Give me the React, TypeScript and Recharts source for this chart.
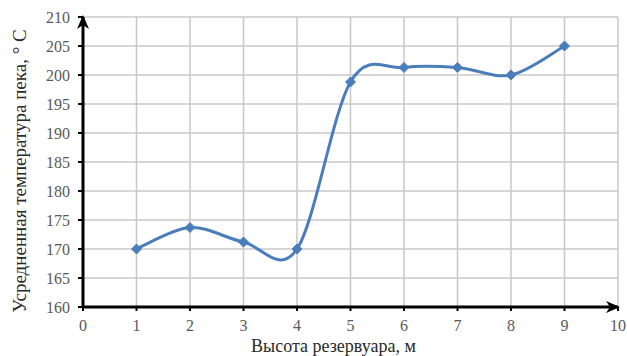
import React from "react";
import { LineChart, Line, XAxis, YAxis, CartesianGrid, Label } from "recharts";

const heights = [1, 2, 3, 4, 5, 6, 7, 8, 9];
const temps = [170, 173.7, 171.2, 170, 198.8, 201.3, 201.3, 200, 205];
const xTicks = [0, 1, 2, 3, 4, 5, 6, 7, 8, 9, 10];
const yTicks = [160, 165, 170, 175, 180, 185, 190, 195, 200, 205, 210];
const xTitle = "Высота резервуара, м";
const yTitle = "Усредненная температура пека, ° С";

const data = heights.map((h, i) => ({ h, t: temps[i] }));

const FONT = '"Liberation Serif", "DejaVu Serif", "Times New Roman", Times, serif';
const LINE_COLOR = "#4a7ebb";

// Excel-like smoothed line (Catmull-Rom through the points)
function smoothCurve(context: any) {
  let pts: number[][] = [];
  return {
    areaStart() {},
    areaEnd() {},
    lineStart() {
      pts = [];
    },
    point(x: number, y: number) {
      pts.push([+x, +y]);
    },
    lineEnd() {
      const n = pts.length;
      if (!n) return;
      context.moveTo(pts[0][0], pts[0][1]);
      const k = 1 / 6;
      for (let i = 0; i < n - 1; i++) {
        const p0 = pts[i - 1] || pts[i];
        const p1 = pts[i];
        const p2 = pts[i + 1];
        const p3 = pts[i + 2] || p2;
        context.bezierCurveTo(
          p1[0] + (p2[0] - p0[0]) * k,
          p1[1] + (p2[1] - p0[1]) * k,
          p2[0] - (p3[0] - p1[0]) * k,
          p2[1] - (p3[1] - p1[1]) * k,
          p2[0],
          p2[1]
        );
      }
    },
  };
}

const Diamond = (props: any) => {
  const { cx, cy, index } = props;
  if (cx == null || cy == null) return <g key={`d${index}`} />;
  const r = 5;
  return (
    <polygon
      key={`d${index}`}
      points={`${cx},${cy - r} ${cx + r},${cy} ${cx},${cy + r} ${cx - r},${cy}`}
      fill={LINE_COLOR}
      stroke={LINE_COLOR}
      strokeWidth={1}
    />
  );
};

const tickStyle = { fontFamily: FONT, fontSize: 16, fill: "#595959" };

const YTitle = (props: any) => {
  const vb = props.viewBox || {};
  const x = vb.x + 26;
  const y = vb.y + vb.height / 2 + 9;
  return (
    <g>
      <defs>
        <marker
          id="arrowHead"
          viewBox="0 0 14 12"
          refX="12"
          refY="6"
          markerWidth="14"
          markerHeight="12"
          markerUnits="userSpaceOnUse"
          orient="auto-start-reverse"
        >
          <path d="M0,0 L14,6 L0,12 L4,6 Z" fill="#000" />
        </marker>
      </defs>
      <text
        x={x}
        y={y}
        transform={`rotate(-90, ${x}, ${y})`}
        textAnchor="middle"
        style={{ fontFamily: FONT, fontSize: 19, fill: "#2a2a2a" }}
      >
        {yTitle}
      </text>
    </g>
  );
};

const XTitle = (props: any) => {
  const vb = props.viewBox || {};
  return (
    <text
      x={vb.x + vb.width / 2 - 17}
      y={vb.y + 45}
      textAnchor="middle"
      style={{ fontFamily: FONT, fontSize: 18, fill: "#2a2a2a" }}
    >
      {xTitle}
    </text>
  );
};

export default function App() {
  return (
    <div style={{ position: "absolute", left: 0, top: 0, width: 627, height: 356, background: "#fff" }}>
      <LineChart
        width={627}
        height={356}
        data={data}
        margin={{ top: 17, right: 9, bottom: 0, left: 0 }}
        style={{ fontFamily: FONT }}
      >
        <CartesianGrid stroke="#c8c8c8" strokeWidth={1.5} />
        <XAxis
          dataKey="h"
          type="number"
          domain={[0, 10]}
          ticks={xTicks}
          interval={0}
          height={49}
          axisLine={{ stroke: "#000", strokeWidth: 3, markerEnd: "url(#arrowHead)" }}
          tickLine={{ stroke: "#000", strokeWidth: 2 }}
          tickSize={4}
          tickMargin={9}
          tick={tickStyle}
        >
          <Label content={<XTitle />} />
        </XAxis>
        <YAxis
          type="number"
          domain={[160, 210]}
          ticks={yTicks}
          interval={0}
          width={83}
          axisLine={{ stroke: "#000", strokeWidth: 3, markerStart: "url(#arrowHead)" }}
          tickLine={{ stroke: "#000", strokeWidth: 2 }}
          tickSize={5}
          tickMargin={8}
          tick={tickStyle}
        >
          <Label content={<YTitle />} />
        </YAxis>
        <Line
          dataKey="t"
          type={smoothCurve as any}
          stroke={LINE_COLOR}
          strokeWidth={3}
          dot={<Diamond />}
          activeDot={false}
          isAnimationActive={false}
        />
      </LineChart>
    </div>
  );
}
